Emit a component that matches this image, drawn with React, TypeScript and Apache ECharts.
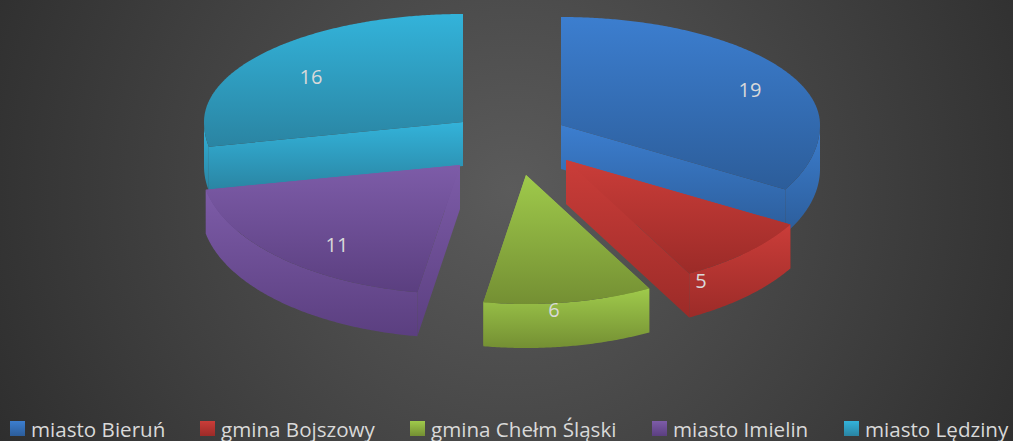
import React, { useEffect, useRef } from "react";
import * as echarts from "echarts";

// --- data ---
const categories = ["miasto Bieruń", "gmina Bojszowy", "gmina Chełm Śląski", "miasto Imielin", "miasto Lędziny"];
const values = [19, 5, 6, 11, 16];

// --- styling / layout (not data) ---
const lightColors = ["#3c7ecf", "#ca3d39", "#9fca4b", "#7d5ca8", "#33b3da"];
const darkColors = ["#2c5d9a", "#9c2b28", "#748f33", "#5b3f80", "#2a84a2"];
const drawOrder = [1, 2, 3, 2, 1];
const explodeOffsets = [[49, -15], [54, 20], [14, 35], [-52, 25], [-49, -18]];
const labelOffsets = [[189, -36], [135, 120], [28, 134], [-123, 79], [-152, -46]];
const legendLefts = [10, 200, 410, 652, 844];

const CENTER_X = 512;
const CENTER_Y = 140;
const RX = 259;
const RY_BACK = 108;
const RY_FRONT = 129;
const DEPTH = 44;
const FONT = '"Open Sans", sans-serif';

const total = values.reduce((a, b) => a + b, 0);

function point(cx: number, cy: number, deg: number, dy = 0): number[] {
  const t = (deg * Math.PI) / 180;
  const c = Math.cos(t);
  return [cx + RX * Math.sin(t), cy - (c > 0 ? RY_BACK : RY_FRONT) * c + dy];
}

function arc(cx: number, cy: number, a0: number, a1: number, dy = 0): number[][] {
  const n = Math.max(2, Math.ceil(Math.abs(a1 - a0) * 2));
  const pts: number[][] = [];
  for (let i = 0; i <= n; i++) pts.push(point(cx, cy, a0 + ((a1 - a0) * i) / n, dy));
  return pts;
}

function grad(light: string, dark: string) {
  return new echarts.graphic.LinearGradient(0, 0, 0, 1, [
    { offset: 0, color: light },
    { offset: 1, color: dark },
  ]);
}

function makeRenderItem(index: number) {
  const startValue = values.slice(0, index).reduce((a, b) => a + b, 0);
  return (_params: any, api: any) => {
    const value = api.value(0);
    const a0 = (startValue / total) * 360;
    const a1 = ((startValue + value) / total) * 360;
    const cx = CENTER_X + explodeOffsets[index][0];
    const cy = CENTER_Y + explodeOffsets[index][1];
    const fill = () => grad(lightColors[index], darkColors[index]);
    const children: any[] = [];
    // the wall that faces the viewer is painted last
    const wallAngles = (a0 + a1) / 2 < 180 ? [a0, a1] : [a1, a0];
    for (const a of wallAngles) {
      const p = point(cx, cy, a);
      children.push({
        type: "polygon",
        shape: { points: [[cx, cy], p, [p[0], p[1] + DEPTH], [cx, cy + DEPTH]] },
        style: { fill: fill() },
      });
    }
    const f0 = Math.max(a0, 90);
    const f1 = Math.min(a1, 270);
    if (f1 > f0) {
      children.push({
        type: "polygon",
        shape: { points: [...arc(cx, cy, f0, f1), ...arc(cx, cy, f1, f0, DEPTH)] },
        style: { fill: fill() },
      });
    }
    children.push({
      type: "polygon",
      shape: { points: [[cx, cy], ...arc(cx, cy, a0, a1)] },
      style: { fill: fill() },
    });
    children.push({
      type: "text",
      style: {
        text: String(value),
        x: cx + labelOffsets[index][0],
        y: cy + labelOffsets[index][1],
        fill: "#d9d9d9",
        font: `20px ${FONT}`,
        textAlign: "center",
        textVerticalAlign: "middle",
      },
    });
    return { type: "group", children };
  };
}

export default function App() {
  const ref = useRef<HTMLDivElement>(null);
  useEffect(() => {
    const chart = echarts.init(ref.current!, undefined, { renderer: "svg" });
    chart.setOption({
      animation: false,
      backgroundColor: new echarts.graphic.RadialGradient(512, 190, 590, [
        { offset: 0, color: "#5b5b5b" },
        { offset: 1, color: "#2d2d2d" },
      ], true),
      legend: categories.map((name, i) => ({
        data: [name],
        left: legendLefts[i],
        top: 418,
        padding: 0,
        itemWidth: 15,
        itemHeight: 15,
        itemGap: 0,
        icon: "rect",
        selectedMode: false,
        textStyle: { color: "#d9d9d9", fontSize: 20.6, lineHeight: 21, fontFamily: FONT, padding: [0, 0, 0, 1] },
      })),
      series: categories.map((name, i) => ({
        type: "custom",
        name,
        coordinateSystem: "none",
        z: drawOrder[i],
        silent: true,
        itemStyle: { color: grad(lightColors[i], darkColors[i]) },
        data: [[values[i]]],
        renderItem: makeRenderItem(i),
      })),
    });
    return () => chart.dispose();
  }, []);
  return <div ref={ref} style={{ position: "absolute", left: 0, top: 0, width: 1013, height: 441 }} />;
}
